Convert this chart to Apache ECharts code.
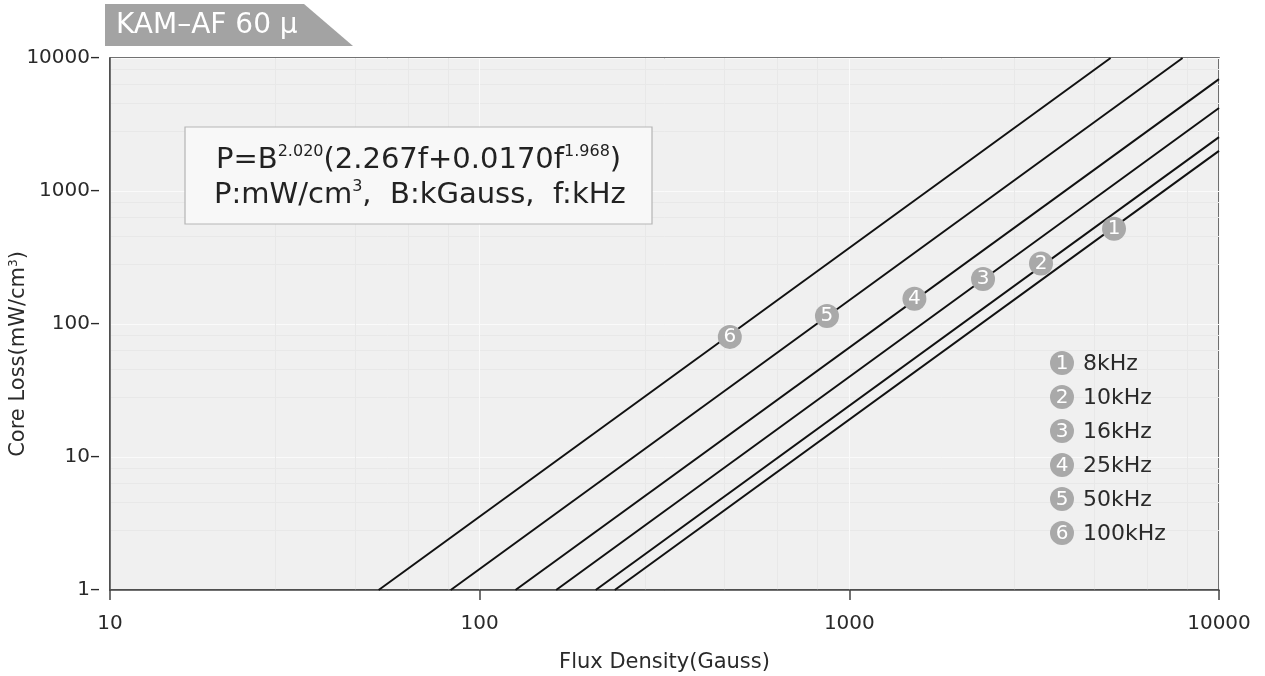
<!DOCTYPE html>
<html>
<head>
<meta charset="utf-8">
<script src="https://cdn.jsdelivr.net/npm/echarts@6/dist/echarts.min.js"></script>
<style>
  html, body { margin: 0; padding: 0; background: #fff; }
  #chart { width: 1265px; height: 676px; }
</style>
</head>
<body>
<div id="chart"></div>
<script>
// 频率与标号
var freqNames = ['8kHz', '10kHz', '16kHz', '25kHz', '50kHz', '100kHz'];
var marks = ['1', '2', '3', '4', '5', '6'];

// 各曲线端点 [B(Gauss), P(mW/cm3)]
var line8k = [[232, 1], [10000, 2005]];
var line10k = [[206, 1], [10000, 2540]];
var line16k = [[161, 1], [10000, 4210]];
var line25k = [[125, 1], [10000, 6940]];
var line50k = [[83.5, 1], [7970, 10000]];
var line100k = [[53.3, 1], [5090, 10000]];

// 曲线上的圆圈标号位置
var markPoints = [[5200, 520], [3300, 285], [2300, 218], [1500, 155], [870, 115], [475, 80]];

var font = 'DejaVu Sans, Liberation Sans, sans-serif';
var markGray = '#a9a9a9';
var textColor = '#2a2a2a';

var lines = [line8k, line10k, line16k, line25k, line50k, line100k];

var series = lines.map(function (d, i) {
	return {
		name: freqNames[i],
		type: 'line',
		data: d,
		symbol: 'none',
		lineStyle: { color: '#111', width: 2 },
		z: 3
	};
});

series.push({
	name: 'marks',
	type: 'scatter',
	data: markPoints.map(function (p, i) { return { value: p, label: { formatter: marks[i] } }; }),
	symbol: 'circle',
	symbolSize: 24,
	itemStyle: { color: markGray, opacity: 1 },
	label: {
		show: true,
		position: 'inside',
		color: '#fff',
		fontSize: 20,
		fontFamily: font
	},
	z: 5
});

// 图例（右下角）
var legendGraphics = [];
freqNames.forEach(function (name, i) {
	var y = 363 + i * 34;
	legendGraphics.push({
		type: 'circle',
		shape: { cx: 1062, cy: y, r: 12 },
		style: { fill: markGray },
		z: 10
	});
	legendGraphics.push({
		type: 'text',
		x: 1062, y: y + 1,
		style: {
			text: marks[i], fill: '#fff', fontSize: 20, fontFamily: font,
			align: 'center', verticalAlign: 'middle'
		},
		z: 11
	});
	legendGraphics.push({
		type: 'text',
		x: 1083, y: y + 1,
		style: {
			text: name, fill: textColor, fontSize: 22, fontFamily: font,
			align: 'left', verticalAlign: 'middle'
		},
		z: 11
	});
});

var myChart = echarts.init(document.getElementById('chart'));

var option = {
	backgroundColor: '#fff',
	animation: false,
	grid: {
		left: 110,
		right: 46,
		top: 58,
		bottom: 86,
		outerBoundsMode: 'none',
		show: true,
		backgroundColor: '#f0f0f0',
		borderColor: '#444',
		borderWidth: 1.5
	},
	xAxis: {
		type: 'log',
		logBase: 10,
		min: 10,
		max: 10000,
		name: 'Flux Density(Gauss)',
		nameLocation: 'middle',
		nameGap: 62,
		nameTextStyle: { color: textColor, fontSize: 21, fontFamily: font },
		axisLine: { lineStyle: { color: '#444', width: 1.5 } },
		axisTick: { show: true, inside: false, length: 10, lineStyle: { color: '#444', width: 1.5 } },
		axisLabel: {
			color: textColor, fontSize: 20, fontFamily: font, margin: 24,
			formatter: function (v) { return String(v); }
		},
		splitLine: { show: true, lineStyle: { color: '#fafafa', width: 1 } },
		minorTick: { show: false },
		minorSplitLine: { show: true, lineStyle: { color: '#e8e8e8', width: 1 } }
	},
	yAxis: {
		type: 'log',
		logBase: 10,
		min: 1,
		max: 10000,
		axisLine: { lineStyle: { color: '#444', width: 1.5 } },
		axisTick: { show: false },
		axisLabel: {
			color: textColor, fontSize: 20, fontFamily: font, margin: 10,
			formatter: function (v) { return v + '–'; }
		},
		splitLine: { show: true, lineStyle: { color: '#fafafa', width: 1 } },
		minorSplitLine: { show: true, lineStyle: { color: '#e8e8e8', width: 1 } }
	},
	series: series,
	graphic: [
		{
			// 纵轴名称
			type: 'text',
			x: 19, y: 354,
			rotation: Math.PI / 2,
			style: {
				rich: {
					n: { fontSize: 21, fontFamily: font, fill: textColor },
					s: { fontSize: 12, fontFamily: font, fill: textColor, padding: [0, 0, 11, 0] }
				},
				text: '{n|Core Loss(mW/cm}{s|3}{n|)}',
				align: 'center', verticalAlign: 'middle'
			},
			z: 11
		},
		{
			// 标题标签
			type: 'polygon',
			shape: { points: [[105, 4], [304, 4], [353, 46], [105, 46]] },
			style: { fill: '#a3a3a3' },
			z: 10
		},
		{
			type: 'text',
			x: 116, y: 26,
			style: {
				text: 'KAM–AF 60 μ', fill: '#fff', fontSize: 28, fontFamily: font,
				verticalAlign: 'middle'
			},
			z: 11
		},
		{
			// 公式框
			type: 'rect',
			shape: { x: 185, y: 127, width: 467, height: 97 },
			style: { fill: '#f8f8f8', stroke: '#b5b5b5', lineWidth: 1.2 },
			z: 10
		},
		{
			type: 'text',
			x: 216, y: 160,
			style: {
				rich: {
					b: { fontSize: 29, fontFamily: font, fill: '#222' },
					s: { fontSize: 16, fontFamily: font, fill: '#222', padding: [0, 0, 16, 0] }
				},
				text: '{b|P=B}{s|2.020}{b|(2.267f+0.0170f}{s|1.968}{b|)}',
				verticalAlign: 'middle'
			},
			z: 11
		},
		{
			type: 'text',
			x: 214, y: 195,
			style: {
				rich: {
					b: { fontSize: 29, fontFamily: font, fill: '#222' },
					s: { fontSize: 16, fontFamily: font, fill: '#222', padding: [0, 0, 16, 0] }
				},
				text: '{b|P:mW/cm}{s|3}{b|,  B:kGauss,  f:kHz}',
				verticalAlign: 'middle'
			},
			z: 11
		}
	].concat(legendGraphics)
};

myChart.clear();
myChart.setOption(option);
</script>
</body>
</html>
